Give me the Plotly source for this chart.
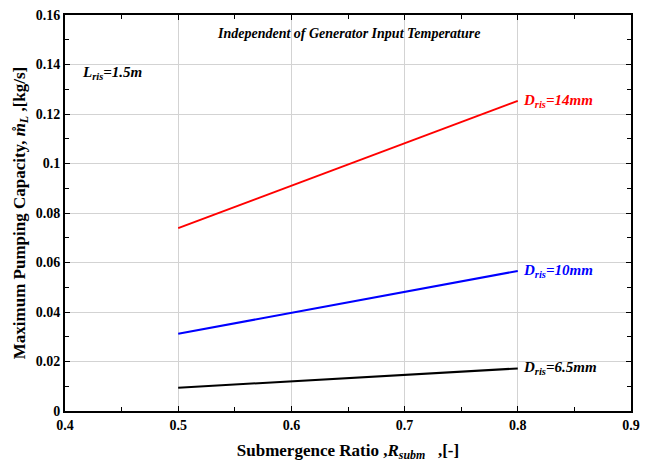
import plotly.graph_objects as go

x_vals = [0.5, 0.8]
d14 = [0.0739, 0.1253]
d10 = [0.0312, 0.0566]
d65 = [0.0094, 0.0172]
series_names = ["D<sub>ris</sub>=14mm", "D<sub>ris</sub>=10mm", "D<sub>ris</sub>=6.5mm"]
series_colors = ["#ff0000", "#0000ff", "#000000"]
x_ticks = [0.4, 0.5, 0.6, 0.7, 0.8, 0.9]
x_ticktext = ["0.4", "0.5", "0.6", "0.7", "0.8", "0.9"]
y_ticks = [0, 0.02, 0.04, 0.06, 0.08, 0.1, 0.12, 0.14, 0.16]
y_ticktext = ["0", "0.02", "0.04", "0.06", "0.08", "0.1", "0.12", "0.14", "0.16"]

FONT = "Liberation Serif, Times New Roman, serif"

fig = go.Figure()
for ys, name, col in zip([d14, d10, d65], series_names, series_colors):
    fig.add_trace(go.Scatter(x=x_vals, y=ys, mode="lines", name=name,
                             line=dict(color=col, width=2), showlegend=False))
    fig.add_annotation(x=x_vals[-1], y=ys[-1], text="<b><i>" + name + "</i></b>",
                       showarrow=False, xanchor="left", yanchor="middle", xshift=3,
                       font=dict(family=FONT, size=15, color=col))

fig.add_annotation(x=0.65, y=0.1527, text="<b><i>Independent of Generator Input Temperature</i></b>",
                   showarrow=False, xanchor="center", yanchor="middle",
                   font=dict(family=FONT, size=14, color="black"))
fig.add_annotation(x=0.413, y=0.1365, text="<b><i>L<sub>ris</sub>=1.5m</i></b>",
                   showarrow=False, xanchor="left", yanchor="middle",
                   font=dict(family=FONT, size=15, color="black"))

axis_common = dict(showline=True, linecolor="black", linewidth=2, mirror="allticks",
                   ticks="inside", ticklen=5, tickcolor="black", tickwidth=1,
                   showgrid=True, gridcolor="#d3d3d3", gridwidth=1, zeroline=False,
                   automargin=False,
                   tickfont=dict(family=FONT, size=14, color="black"))

fig.update_xaxes(range=[0.4, 0.9], tickvals=x_ticks,
                 ticktext=["<b>" + t + "</b>" for t in x_ticktext],
                 minor=dict(ticks="inside", ticklen=4, dtick=0.05, tick0=0.4, tickcolor="black", showgrid=False),
                 title=dict(text="<b>Submergence Ratio ,<i>R<sub>subm</sub></i>   ,[-]</b>",
                            font=dict(family=FONT, size=17, color="black"), standoff=12),
                 **axis_common)
fig.update_yaxes(range=[0, 0.16], tickvals=y_ticks,
                 ticktext=["<b>" + t + "</b>" for t in y_ticktext],
                 minor=dict(ticks="inside", ticklen=4, dtick=0.01, tick0=0, tickcolor="black", showgrid=False),
                 title=dict(text="<b>Maximum Pumping Capacity, <i>m&#778;</i><sub><i>L</i></sub> ,[kg/s]</b>",
                            font=dict(family=FONT, size=17, color="black"), standoff=6),
                 **axis_common)

fig.update_layout(width=657, height=463, margin=dict(l=65, r=26, t=15, b=52),
                  paper_bgcolor="white", plot_bgcolor="white",
                  font=dict(family=FONT, color="black"))

fig.write_html("out.html")
